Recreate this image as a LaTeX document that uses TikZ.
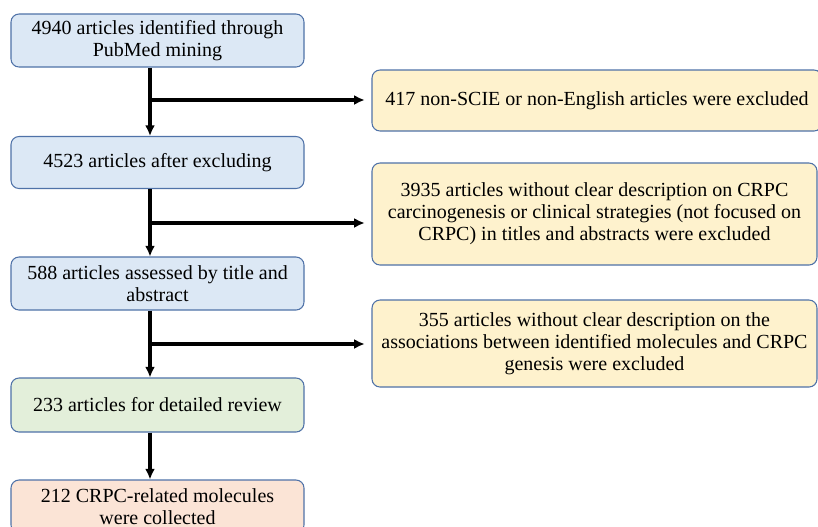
\documentclass[tikz,border=0pt]{standalone}
\usepackage{fontspec}
\setmainfont{Liberation Serif}
\usetikzlibrary{arrows.meta, positioning}

\definecolor{stepblue}{HTML}{DCE8F5}
\definecolor{stepgreen}{HTML}{E3EFDA}
\definecolor{stepred}{HTML}{FBE4D6}
\definecolor{exclyellow}{HTML}{FEF2CD}
\definecolor{boxline}{HTML}{4F72A8}

\begin{document}
\begin{tikzpicture}[x=0.75pt, y=-0.75pt, >={Latex[length=8pt,width=7.5pt]},
  box/.style={rectangle, draw=boxline, line width=0.8pt, rounded corners=6pt,
    align=center, font=\fontsize{15}{16.5}\selectfont, inner sep=0pt},
  stepbox/.style={box, minimum width=219.75pt},
  exclbox/.style={box, fill=exclyellow, minimum width=333.75pt},
  flow/.style={->, line width=2.5pt}]
\useasboundingbox (0,0) rectangle (818,526);

\node (mined)  [stepbox, fill=stepblue, minimum height=39.75pt] at (157.5,40.5) {4940 articles identified through\\PubMed mining};
\node (kept)   [stepbox, fill=stepblue, minimum height=39pt] at (157.5,162.5) {4523 articles after excluding};
\node (title)  [stepbox, fill=stepblue, minimum height=39.75pt] at (157.5,283.5) {588 articles assessed by title and\\abstract};
\node (review) [stepbox, fill=stepgreen, minimum height=40.5pt] at (157.5,405) {233 articles for detailed review};
\node (mols)   [stepbox, fill=stepred, minimum height=39.75pt] at (157.5,506.5) {212 CRPC-related molecules\\were collected};

\node (ex1) [exclbox, minimum width=337.5pt, minimum height=45.75pt] at (597,100.5) {417 non-SCIE or non-English articles were excluded};
\node (ex2) [exclbox, minimum height=76.5pt] at (594.5,214) {3935 articles without clear description on CRPC\\carcinogenesis or clinical strategies (not focused on\\CRPC) in titles and abstracts were excluded};
\node (ex3) [exclbox, minimum height=65.25pt] at (594.5,343.5) {355 articles without clear description on the\\associations between identified molecules and CRPC\\genesis were excluded};

% main line of the flow
\coordinate (spine) at (150,0);
\draw[flow] (mined.south -| spine) -- (kept.north -| spine);
\draw[flow] (kept.south -| spine) -- (title.north -| spine);
\draw[flow] (title.south -| spine) -- (review.north -| spine);
\draw[flow] (review.south -| spine) -- (mols.north -| spine);

% exclusions
\coordinate (b1) at (150,100);
\coordinate (b2) at (150,223);
\coordinate (b3) at (150,344);
\draw[flow, shorten >=5pt] (b1) -- (b1 -| ex1.west);
\draw[flow, shorten >=5pt] (b2) -- (b2 -| ex2.west);
\draw[flow, shorten >=5pt] (b3) -- (b3 -| ex3.west);
\end{tikzpicture}
\end{document}
